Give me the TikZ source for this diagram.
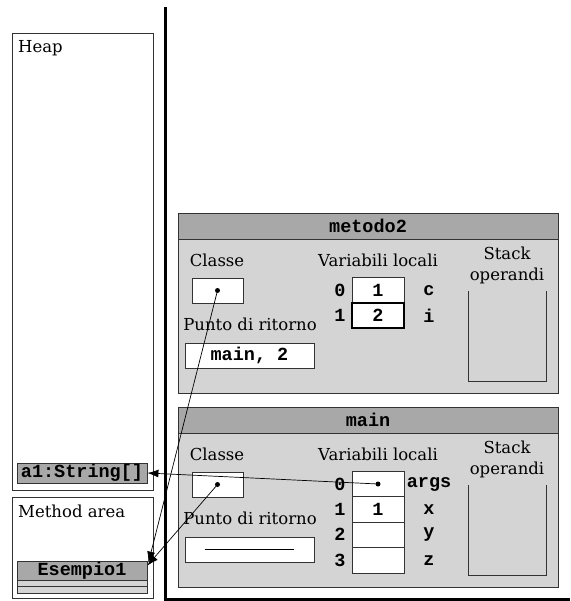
\documentclass[tikz,border=0pt]{standalone}
\usepackage{fontspec}
\setmainfont{DejaVu Serif}
\setmonofont{Liberation Mono}
\usetikzlibrary{arrows.meta}
\definecolor{headgray}{gray}{0.66}
\definecolor{bodygray}{gray}{0.83}
\tikzset{
  area/.style={draw=black!80,line width=0.8pt},
  txt/.style={inner sep=0pt,font=\fontsize{16.5}{19}\selectfont,align=center},
  code/.style={inner sep=0pt,font=\ttfamily\bfseries\fontsize{18.5}{20}\selectfont},
  cell/.style={area,fill=white,inner sep=0pt,minimum width=52pt,minimum height=25.4pt,code},
  ref/.style={-{Latex[length=11pt,width=8pt]},line width=0.7pt},
  pin/.style={circle,fill=black,inner sep=0pt,minimum size=5pt}
}
\begin{document}
\begin{tikzpicture}[x=1pt,y=-1pt]
  \useasboundingbox (0,0) rectangle (570,601);
  % heap and method area
  \draw[area] (12,33) rectangle (153,490);
  \node[txt,anchor=west] (heap) at (18,48) {Heap};
  \node[code,area,fill=headgray,minimum width=130pt,minimum height=20pt] (arr) at (82,473) {a1:String[]};
  \draw[area] (12,497) rectangle (153,598);
  \node[txt,anchor=west] (marea) at (18,511) {Method area};
  \node[code,area,fill=headgray,minimum width=130pt,minimum height=19pt] (ese) at (82,570.5) {Esempio1};
  \draw[area,fill=bodygray] (17,580) rectangle (147,586.5);
  \draw[area,fill=bodygray] (17,586.5) rectangle (147,593);
  % stack
  \draw[line width=3pt] (165.5,7) -- (165.5,599) -- (570,599);
  \foreach \t/\name/\id in {213/metodo2/a,407/main/b}{
    \draw[area,fill=bodygray] (178,\t) rectangle (558,\t+180);
    \draw[area,fill=headgray] (178,\t) rectangle (558,\t+26);
    \node[code] (title\id) at (368,\t+13) {\name};
    \node[txt] (clab\id) at (217,\t+47) {Classe};
    \node[txt] (vlab\id) at (378,\t+47) {Variabili locali};
    \node[txt] (slab\id) at (507,\t+40) {Stack};
    \node[txt] (olab\id) at (507,\t+63) {operandi};
    \node[cell,minimum width=51pt,minimum height=25pt] (cls\id) at (217.5,\t+77.5) {};
    \node[txt] (rlab\id) at (250,\t+111.5) {Punto di ritorno};
    \node[cell,minimum width=129pt,minimum height=25pt] (ret\id) at (249.5,\t+142.5) {};
    \draw[area] (468,\t+78) -- (468,\t+168) -- (546,\t+168) -- (546,\t+78);
  }
  % metodo2 locals
  \node[cell] (va0) at (378,290.5) {1};
  \node[cell,line width=2pt,draw=black] (va1) at (378,315.7) {2};
  \node[code] at (340,290.5) {0};
  \node[code] at (340,315.7) {1};
  \node[code] at (429,290.5) {c};
  \node[code] at (429,315.7) {i};
  \node[code] at (reta.center) {main, 2};
  % main locals
  \node[cell] (vb0) at (378,484) {};
  \node[cell] (vb1) at (378,509.4) {1};
  \node[cell] (vb2) at (378,534.8) {};
  \node[cell] (vb3) at (378,560.2) {};
  \foreach \i [count=\k from 0] in {0,1,2,3}
    \node[code] at (340,484+25.4*\k) {\i};
  \node[code] at (429,484) {args};
  \node[code] at (429,509.4) {x};
  \node[code] at (429,534.8) {y};
  \node[code] at (429,560.2) {z};
  \draw[line width=0.6pt] ([xshift=20pt]retb.west) -- ([xshift=-20pt]retb.east);
  % references
  \node[pin] (pa) at (clsa.center) {};
  \node[pin] (pb) at (clsb.center) {};
  \node[pin] (pv) at (vb0.center) {};
  \draw[ref] (pv.center) -- (arr.east);
  \draw[ref] (pa.center) -- ([xshift=1pt,yshift=-2pt]ese.north east);
  \draw[ref] (pb.center) -- ([yshift=-5pt]ese.north east);
\end{tikzpicture}
\end{document}
